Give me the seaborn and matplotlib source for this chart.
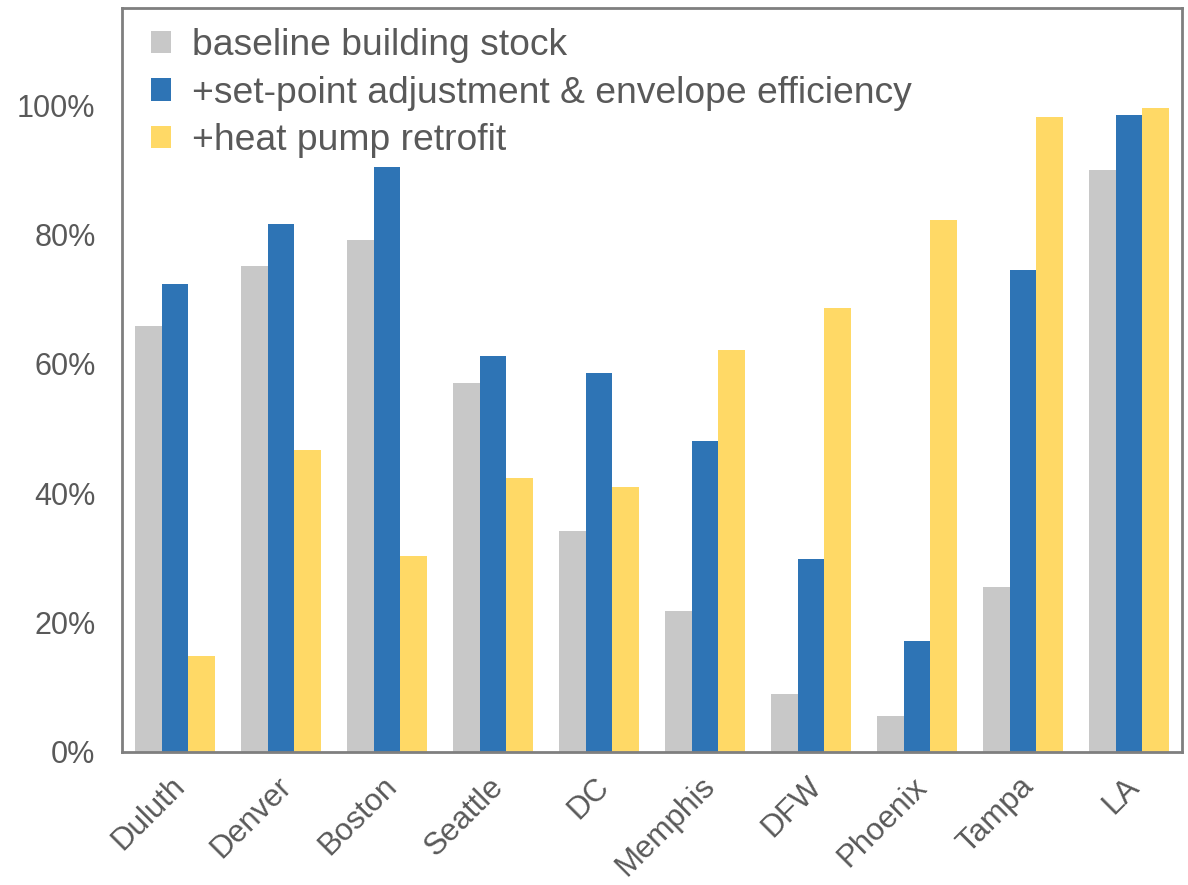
import pandas as pd
import seaborn as sns
import matplotlib.pyplot as plt
import matplotlib.transforms as mtransforms
from matplotlib.ticker import PercentFormatter

cities = ['Duluth', 'Denver', 'Boston', 'Seattle', 'DC', 'Memphis', 'DFW', 'Phoenix', 'Tampa', 'LA']
series = ['baseline building stock',
          '+set-point adjustment & envelope efficiency',
          '+heat pump retrofit']

baseline = [0.658, 0.751, 0.791, 0.571, 0.341, 0.218, 0.090, 0.056, 0.255, 0.899]
setpoint = [0.723, 0.816, 0.904, 0.612, 0.586, 0.481, 0.299, 0.172, 0.745, 0.984]
heatpump = [0.149, 0.467, 0.303, 0.424, 0.410, 0.622, 0.686, 0.822, 0.982, 0.996]

colors = ['#C8C8C8', '#2E74B5', '#FFD966']
text_color = '#595959'

# long form pour seaborn
df = pd.DataFrame({
    'city': cities * 3,
    'series': [series[0]] * 10 + [series[1]] * 10 + [series[2]] * 10,
    'value': baseline + setpoint + heatpump,
})

sns.set_style('white')
plt.rcParams['font.family'] = ['Liberation Sans', 'DejaVu Sans']

fig = plt.figure(figsize=(11.88, 8.85), dpi=100)
ax = fig.add_axes([0.1027, 0.1503, 0.8923, 0.8407])

sns.barplot(data=df, x='city', y='value', hue='series', order=cities, hue_order=series,
            palette=colors, saturation=1, width=0.75, errorbar=None, linewidth=0, ax=ax)

ax.set_xlim(-0.5, 9.5)
ax.set_ylim(0, 1.15)
ax.set_yticks([0, 0.2, 0.4, 0.6, 0.8, 1.0])
ax.yaxis.set_major_formatter(PercentFormatter(1.0, decimals=0))
ax.set_xlabel('')
ax.set_ylabel('')

for s in ax.spines.values():
    s.set_color('#7F7F7F')
    s.set_linewidth(2)

ax.tick_params(axis='both', length=0, colors=text_color)
ax.tick_params(axis='y', pad=19, labelsize=22)
ax.tick_params(axis='x', pad=14, labelsize=22.5)

# décaler un peu les étiquettes x vers la gauche
offset = mtransforms.ScaledTranslation(-5 / 100, 0, fig.dpi_scale_trans)
for lab in ax.get_xticklabels():
    lab.set_rotation(45)
    lab.set_ha('right')
    lab.set_rotation_mode('anchor')
    lab.set_transform(lab.get_transform() + offset)

leg = ax.legend(loc='upper left', bbox_to_anchor=(0.0274, 0.9726), frameon=False, fontsize=26.8,
                handlelength=0.54, handleheight=0.54, handletextpad=0.55,
                labelspacing=0.33, borderaxespad=0, borderpad=0)
for t in leg.get_texts():
    t.set_color(text_color)

fig.savefig('out.png', dpi=100)
